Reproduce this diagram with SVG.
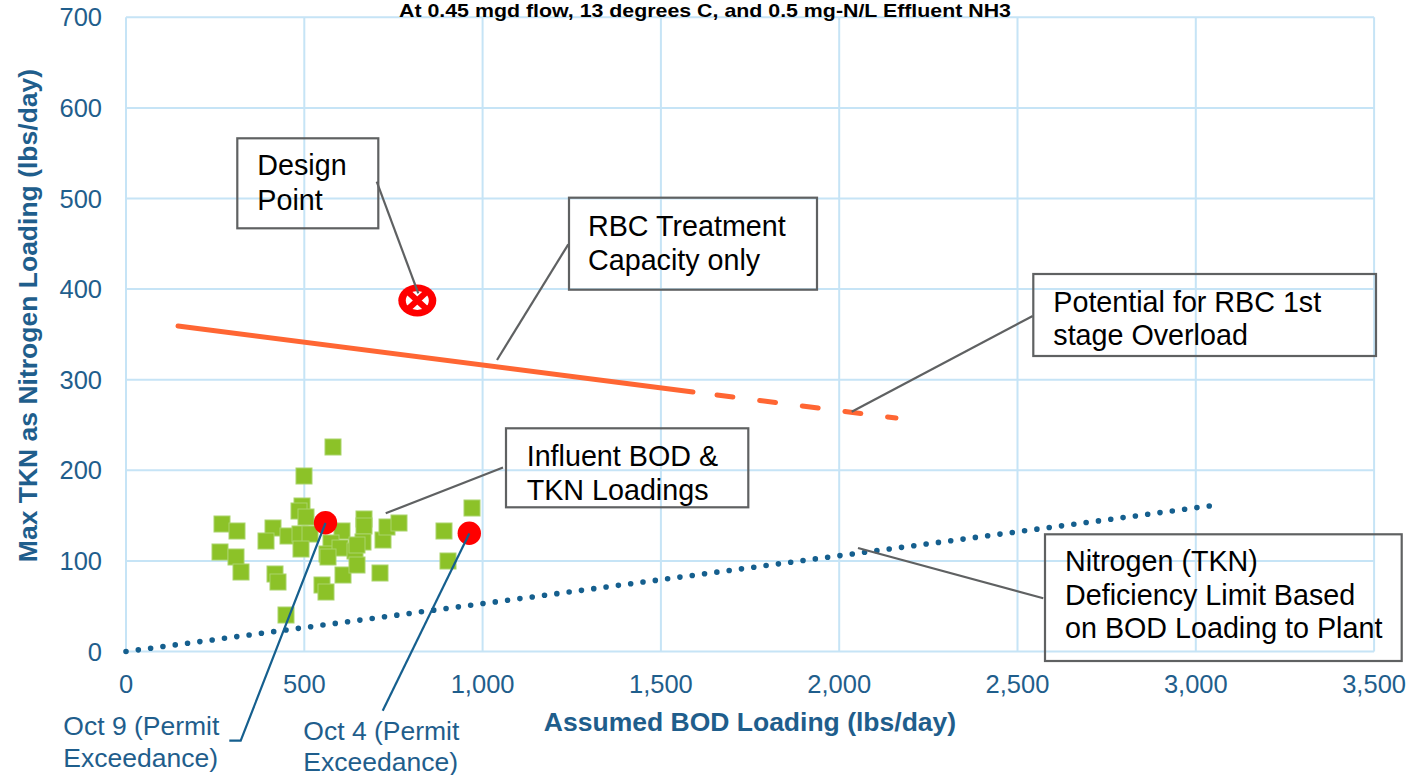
<svg xmlns="http://www.w3.org/2000/svg" width="1415" height="775" viewBox="0 0 1415 775">
<style>
.grid{stroke:#C6E4F6;stroke-width:2;fill:none}
.tick{font-family:"Liberation Sans",Arial,sans-serif;font-size:25.5px;fill:#1F5E8C}
.axt{font-family:"Liberation Sans",Arial,sans-serif;font-size:26.5px;font-weight:bold;fill:#1F5E8C}
.ttl{font-family:"Liberation Sans",Arial,sans-serif;font-size:18.5px;font-weight:bold;fill:#000}
.box{fill:none;stroke:#5F6162;stroke-width:2.2}
.bt{font-family:"Liberation Sans",Arial,sans-serif;font-size:28.7px;fill:#000}
.oct{font-family:"Liberation Sans",Arial,sans-serif;font-size:26.5px;fill:#1F5E8C}
.lead{stroke:#5F6162;stroke-width:2.2;fill:none}
.leadb{stroke:#155F8E;stroke-width:2.2;fill:none}
.sq{fill:#8CC228;stroke:#A9D46A;stroke-width:1}
.red{fill:#FF0000}
</style>
<rect width="1415" height="775" fill="#fff"/>
<g id="grid">
<path class="grid" d="M126,17.3V651.5M304.3,17.3V651.5M482.6,17.3V651.5M660.9,17.3V651.5M839.2,17.3V651.5M1017.5,17.3V651.5M1195.8,17.3V651.5M1374.1,17.3V651.5"/>
<path class="grid" d="M126,17.3H1374.1M126,107.9H1374.1M126,198.5H1374.1M126,289.1H1374.1M126,379.7H1374.1M126,470.3H1374.1M126,560.9H1374.1M126,651.5H1374.1"/>
</g>
<g id="title">
<text class="ttl" x="705" y="16.5" text-anchor="middle" textLength="612" lengthAdjust="spacingAndGlyphs">At 0.45 mgd flow, 13 degrees C, and 0.5 mg-N/L Effluent NH3</text>
</g>
<g id="y-ticks" text-anchor="end">
<text class="tick" x="102" y="660.5">0</text>
<text class="tick" x="102" y="569.9">100</text>
<text class="tick" x="102" y="479.3">200</text>
<text class="tick" x="102" y="388.7">300</text>
<text class="tick" x="102" y="298.1">400</text>
<text class="tick" x="102" y="207.5">500</text>
<text class="tick" x="102" y="116.9">600</text>
<text class="tick" x="102" y="26.3">700</text>
</g>
<g id="x-ticks" text-anchor="middle">
<text class="tick" x="126" y="693">0</text>
<text class="tick" x="304.3" y="693">500</text>
<text class="tick" x="482.6" y="693">1,000</text>
<text class="tick" x="660.9" y="693">1,500</text>
<text class="tick" x="839.2" y="693">2,000</text>
<text class="tick" x="1017.5" y="693">2,500</text>
<text class="tick" x="1195.8" y="693">3,000</text>
<text class="tick" x="1374.1" y="693">3,500</text>
</g>
<g id="axis-titles">
<text class="axt" x="750" y="731" text-anchor="middle">Assumed BOD Loading (lbs/day)</text>
<text class="axt" transform="translate(37,315.5) rotate(-90)" text-anchor="middle">Max TKN as Nitrogen Loading (lbs/day)</text>
</g>
<g id="series-limit">
<path d="M126,651.5L1209.3,506" stroke="#155F8E" stroke-width="5.6" stroke-linecap="round" stroke-dasharray="0 12.42" fill="none"/>
</g>
<g id="series-rbc">
<path d="M178,326L693,392" stroke="#FF6633" stroke-width="5" stroke-linecap="round" fill="none"/>
<path d="M717,395L896,418" stroke="#FF6633" stroke-width="5" stroke-linecap="round" stroke-dasharray="16 27" fill="none"/>
</g>
<g id="series-influent">
<rect class="sq" x="325" y="439" width="16" height="16"/>
<rect class="sq" x="296" y="468" width="16" height="16"/>
<rect class="sq" x="294" y="498" width="16" height="16"/>
<rect class="sq" x="291" y="503" width="16" height="16"/>
<rect class="sq" x="298" y="509" width="16" height="16"/>
<rect class="sq" x="214" y="516" width="16" height="16"/>
<rect class="sq" x="229" y="523" width="16" height="16"/>
<rect class="sq" x="265" y="520" width="16" height="16"/>
<rect class="sq" x="258" y="533" width="16" height="16"/>
<rect class="sq" x="280" y="528" width="16" height="16"/>
<rect class="sq" x="292" y="526" width="16" height="16"/>
<rect class="sq" x="302" y="526" width="16" height="16"/>
<rect class="sq" x="293" y="541" width="16" height="16"/>
<rect class="sq" x="212" y="544" width="16" height="16"/>
<rect class="sq" x="228" y="549" width="16" height="16"/>
<rect class="sq" x="233" y="564" width="16" height="16"/>
<rect class="sq" x="267" y="566" width="16" height="16"/>
<rect class="sq" x="270" y="574" width="16" height="16"/>
<rect class="sq" x="314" y="577" width="16" height="16"/>
<rect class="sq" x="318" y="584" width="16" height="16"/>
<rect class="sq" x="278" y="607" width="16" height="16"/>
<rect class="sq" x="335" y="567" width="16" height="16"/>
<rect class="sq" x="334" y="523" width="16" height="16"/>
<rect class="sq" x="323" y="535" width="16" height="16"/>
<rect class="sq" x="319" y="546" width="16" height="16"/>
<rect class="sq" x="332" y="540" width="16" height="16"/>
<rect class="sq" x="356" y="511" width="16" height="16"/>
<rect class="sq" x="356" y="518" width="16" height="16"/>
<rect class="sq" x="355" y="534" width="16" height="16"/>
<rect class="sq" x="347" y="543" width="16" height="16"/>
<rect class="sq" x="349" y="557" width="16" height="16"/>
<rect class="sq" x="375" y="532" width="16" height="16"/>
<rect class="sq" x="379" y="519" width="16" height="16"/>
<rect class="sq" x="391" y="515" width="16" height="16"/>
<rect class="sq" x="372" y="565" width="16" height="16"/>
<rect class="sq" x="436" y="523" width="16" height="16"/>
<rect class="sq" x="464" y="500" width="16" height="16"/>
<rect class="sq" x="440" y="553" width="16" height="16"/>
<rect class="sq" x="320" y="549" width="16" height="16"/>
<rect class="sq" x="349" y="537" width="16" height="16"/>
</g>
<g id="series-exceedance">
<circle class="red" cx="325.5" cy="522.7" r="11.7"/>
<circle class="red" cx="469.3" cy="533.3" r="11.7"/>
</g>
<g id="design-point">
<ellipse class="red" cx="417.3" cy="300.5" rx="19" ry="16"/>
<ellipse fill="#fff" cx="417.3" cy="300.5" rx="11.5" ry="9.5"/>
<path d="M407.5,291.5L427.1,309.5M427.1,291.5L407.5,309.5" stroke="#FF0000" stroke-width="6"/>
</g>
<g id="connectors">
<path class="lead" d="M376.7,181.7L418.3,293.3"/>
<path class="lead" d="M568.3,244.3L497,360"/>
<path class="lead" d="M1032.7,316L851.7,411.7"/>
<path class="lead" d="M503,467.5L385.7,513.3"/>
<path class="lead" d="M1043.3,598.3L858,548"/>
<path class="leadb" d="M325.5,523L240.7,740.7H229.3"/>
<path class="leadb" d="M469.3,533.6L382.7,710.7"/>
</g>
<g id="node-design">
<rect class="box" x="237.3" y="138.3" width="141" height="90"/>
<text class="bt" x="257.3" y="175">Design</text>
<text class="bt" x="257.3" y="210">Point</text>
</g>
<g id="node-rbc">
<rect class="box" x="569" y="197.7" width="248" height="92"/>
<text class="bt" x="588" y="236">RBC Treatment</text>
<text class="bt" x="588" y="270">Capacity only</text>
</g>
<g id="node-overload">
<rect class="box" x="1033.3" y="274" width="342.7" height="82"/>
<text class="bt" x="1053.3" y="311.7">Potential for RBC 1st</text>
<text class="bt" x="1053.3" y="345">stage Overload</text>
</g>
<g id="node-influent">
<rect class="box" x="506" y="428.3" width="242.3" height="79"/>
<text class="bt" x="526.7" y="466">Influent BOD &amp;</text>
<text class="bt" x="526.7" y="500">TKN Loadings</text>
</g>
<g id="node-nitrogen">
<rect class="box" x="1045" y="534.3" width="356.7" height="126.7"/>
<text class="bt" x="1065" y="570.7">Nitrogen (TKN)</text>
<text class="bt" x="1065" y="605">Deficiency Limit Based</text>
<text class="bt" x="1065" y="637.7">on BOD Loading to Plant</text>
</g>
<g id="node-oct9">
<text class="oct" x="63.3" y="735">Oct 9 (Permit</text>
<text class="oct" x="63.3" y="766.7">Exceedance)</text>
</g>
<g id="node-oct4">
<text class="oct" x="303.3" y="740">Oct 4 (Permit</text>
<text class="oct" x="303.3" y="771">Exceedance)</text>
</g>
</svg>
